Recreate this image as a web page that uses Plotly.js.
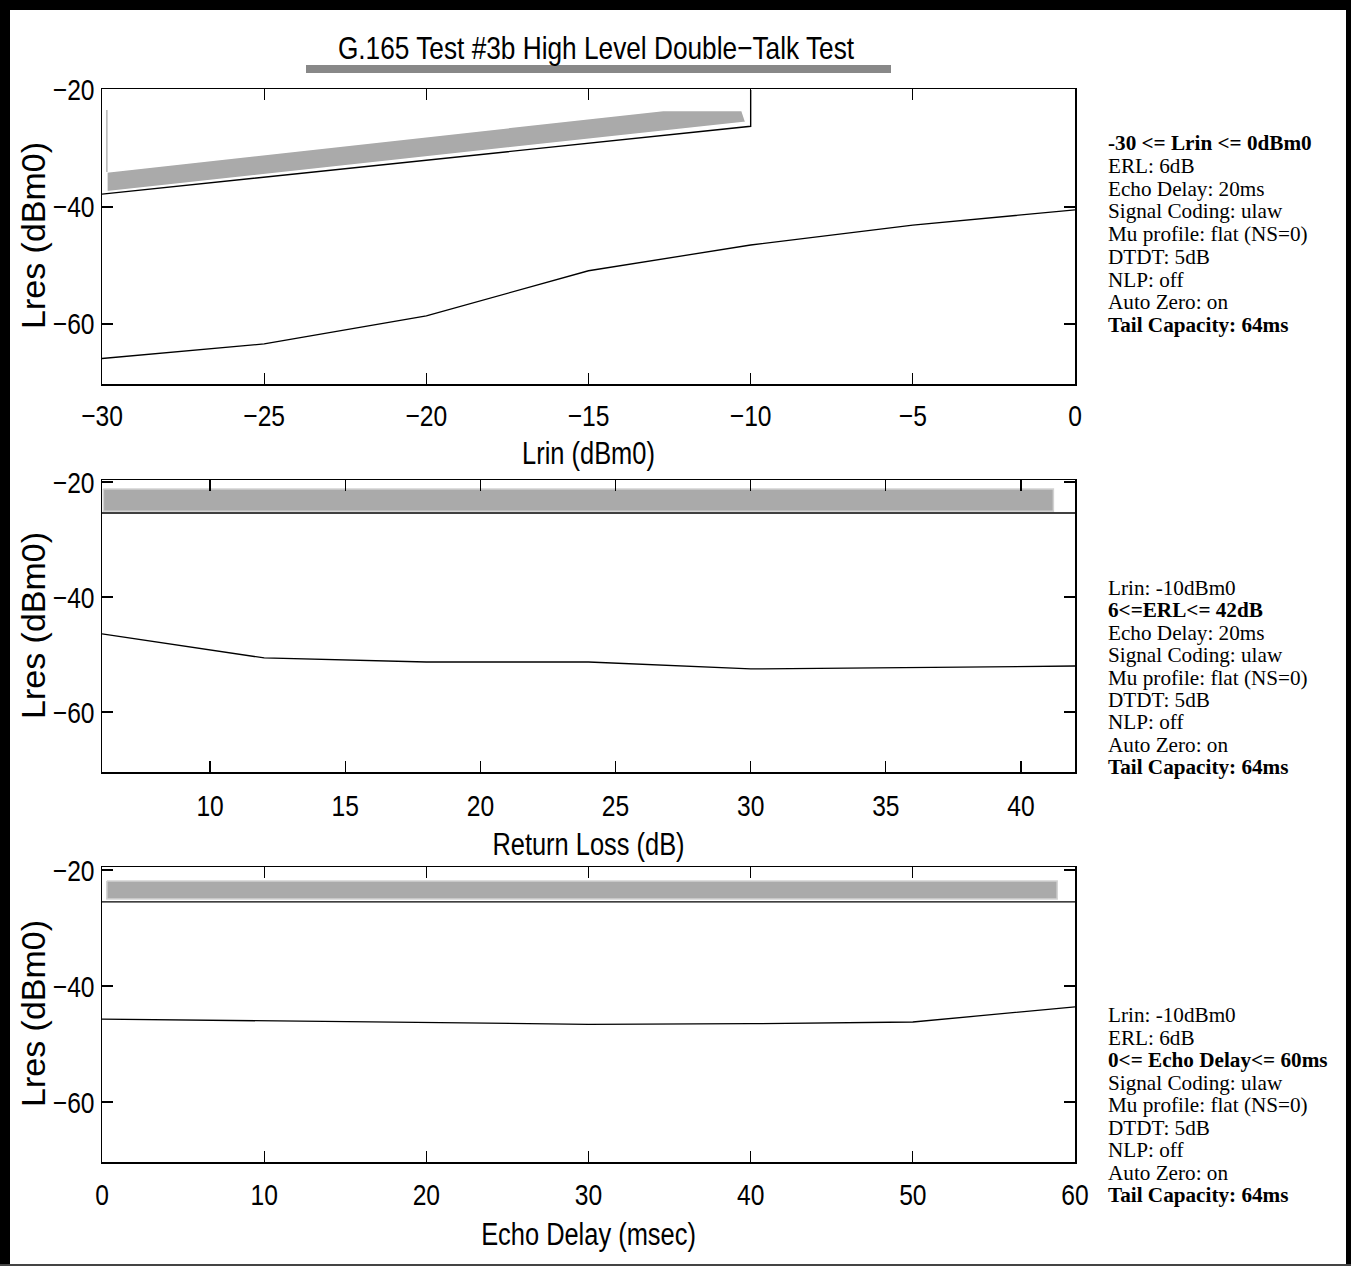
<!DOCTYPE html>
<html>
<head>
<meta charset="utf-8">
<script src="https://cdn.plot.ly/plotly-3.0.1.min.js"></script>
<style>html,body{margin:0;padding:0;background:#fff;}#chart{width:1351px;height:1266px;}</style>
</head>
<body>
<div id="chart"></div>
<script>
// ---------- Data ----------
// Plot 1: Lres vs Lrin
const lrin = [-30, -25, -20, -15, -10, -5, 0];
const lresLrin = [-65.9, -63.4, -58.6, -50.9, -46.5, -43.1, -40.5];
const limitLrinX = [-30, -10, -10];
const limitLrinY = [-37.8, -26.2, -20];
const bandLrinX = [-29.85, -12.7, -10.27, -10.15, -29.85, -29.85];
const bandLrinY = [-34.0, -23.5, -23.5, -25.5, -37.4, -34.0];
const markLrinX = [-29.85, -29.85];
const markLrinY = [-23.4, -34.0];

// Plot 2: Lres vs Return Loss (ERL)
const erl = [6, 12, 18, 24, 30, 36, 42];
const lresErl = [-46.4, -50.6, -51.3, -51.3, -52.5, -52.2, -52.0];
const limitErlX = [6, 42];
const limitErlY = [-25.4, -25.4];
const bandErlX = [6.05, 41.2, 41.2, 6.05, 6.05];
const bandErlY = [-21.2, -21.2, -25.1, -25.1, -21.2];

// Plot 3: Lres vs Echo Delay
const delay = [0, 10, 20, 30, 40, 50, 60];
const lresDelay = [-45.7, -46.0, -46.4, -46.6, -46.5, -46.2, -43.6];
const limitDelayX = [0, 60];
const limitDelayY = [-25.5, -25.5];
const bandDelayX = [0.3, 58.9, 58.9, 0.3, 0.3];
const bandDelayY = [-21.9, -21.9, -25.0, -25.0, -21.9];

// Tick values
const ticksLrin = [-30, -25, -20, -15, -10, -5, 0];
const ticksErl = [10, 15, 20, 25, 30, 35, 40];
const ticksDelay = [0, 10, 20, 30, 40, 50, 60];
const ticksLres = [-20, -40, -60];

// Text
const chartTitle = "G.165 Test #3b High Level Double\u2212Talk Test";
const xTitles = ["Lrin (dBm0)", "Return Loss (dB)", "Echo Delay (msec)"];
const yTitle = "Lres (dBm0)";
const info1 = ["<b>-30 <= Lrin <= 0dBm0</b>", "ERL: 6dB", "Echo Delay: 20ms", "Signal Coding: ulaw", "Mu profile: flat (NS=0)", "DTDT: 5dB", "NLP: off", "Auto Zero: on", "<b>Tail Capacity: 64ms</b>"];
const info2 = ["Lrin: -10dBm0", "<b>6<=ERL<= 42dB</b>", "Echo Delay: 20ms", "Signal Coding: ulaw", "Mu profile: flat (NS=0)", "DTDT: 5dB", "NLP: off", "Auto Zero: on", "<b>Tail Capacity: 64ms</b>"];
const info3 = ["Lrin: -10dBm0", "ERL: 6dB", "<b>0<= Echo Delay<= 60ms</b>", "Signal Coding: ulaw", "Mu profile: flat (NS=0)", "DTDT: 5dB", "NLP: off", "Auto Zero: on", "<b>Tail Capacity: 64ms</b>"];

// ---------- Layout helpers ----------
const W = 1351, H = 1266;
const px = v => v / W;
const py = v => 1 - v / H;
const SANS = "'Liberation Sans', Arial, sans-serif";
const SERIF = "'Liberation Serif', 'Times New Roman', serif";
const BAND = '#aaaaaa';

function bandTrace(x, y, xa, ya, lc) {
  return {x: x, y: y, xaxis: xa, yaxis: ya, type: 'scatter', mode: 'lines', fill: 'toself',
    fillcolor: BAND, line: {color: lc, width: 1.5}, hoverinfo: 'skip', showlegend: false};
}
function lineTrace(x, y, xa, ya, color, w) {
  return {x: x, y: y, xaxis: xa, yaxis: ya, type: 'scatter', mode: 'lines',
    line: {color: color, width: w}, showlegend: false};
}

const traces = [
  bandTrace(bandLrinX, bandLrinY, 'x', 'y', '#ffffff'),
  lineTrace(markLrinX, markLrinY, 'x', 'y', '#b5b5b5', 1.5),
  lineTrace(limitLrinX, limitLrinY, 'x', 'y', '#000000', 1.4),
  lineTrace(lrin, lresLrin, 'x', 'y', '#000000', 1.3),

  lineTrace(limitErlX, limitErlY, 'x2', 'y2', '#000000', 1.4),
  bandTrace(bandErlX, bandErlY, 'x2', 'y2', '#d2d2d2'),
  lineTrace(erl, lresErl, 'x2', 'y2', '#000000', 1.3),

  lineTrace(limitDelayX, limitDelayY, 'x3', 'y3', '#000000', 1.4),
  bandTrace(bandDelayX, bandDelayY, 'x3', 'y3', '#d2d2d2'),
  lineTrace(delay, lresDelay, 'x3', 'y3', '#000000', 1.3)
];

const xDom = [px(102), px(1075)];
function xAxis(range, ticks, title, anchor, lblOff, ttlOff) {
  return {domain: xDom, range: range, tickvals: ticks, anchor: anchor,
    showline: true, linecolor: '#000', linewidth: 1.5, mirror: 'ticks',
    ticks: 'inside', ticklen: 11, tickcolor: '#000', tickwidth: 1.3,
    showgrid: false, zeroline: false, fixedrange: true, automargin: false,
    ticklabelstandoff: lblOff,
    tickfont: {family: SANS, size: 30, color: '#000'},
    title: {text: title, standoff: ttlOff, font: {family: SANS, size: 31, color: '#000'}}};
}
function yAxis(top, bottom, range, anchor) {
  return {domain: [py(bottom), py(top)], range: range, tickvals: ticksLres, anchor: anchor,
    showline: true, linecolor: '#000', linewidth: 1.5, mirror: 'ticks',
    ticks: 'inside', ticklen: 11, tickcolor: '#000', tickwidth: 1.3,
    showgrid: false, zeroline: false, fixedrange: true, automargin: false,
    ticklabelstandoff: 0,
    tickfont: {family: SANS, size: 30, color: '#000'}};
}

const annotations = [];
function addInfo(lines, y0, step) {
  lines.forEach((t, i) => {
    annotations.push({text: t, xref: 'paper', yref: 'paper', x: px(1106), y: py(y0 + i * step),
      xanchor: 'left', yanchor: 'middle', showarrow: false,
      font: {family: SERIF, size: 21.2, color: '#000'}});
  });
}
addInfo(info1, 143, 22.75);
addInfo(info2, 588, 22.4);
addInfo(info3, 1015, 22.5);

// y-axis titles (rotated), one per subplot
[236, 626, 1014].forEach(yc => {
  annotations.push({text: yTitle, xref: 'paper', yref: 'paper', x: px(33), y: py(yc),
    xanchor: 'center', yanchor: 'middle', textangle: -90, showarrow: false,
    font: {family: SANS, size: 34, color: '#000'}});
});

const shapes = [
  {type: 'rect', xref: 'paper', yref: 'paper', x0: px(306), x1: px(891), y0: py(73), y1: py(65), fillcolor: '#888888', line: {width: 0}, layer: 'below'},
  {type: 'rect', xref: 'paper', yref: 'paper', x0: 0, x1: px(10), y0: 0, y1: 1, fillcolor: '#000', line: {width: 0}},
  {type: 'rect', xref: 'paper', yref: 'paper', x0: 0, x1: 1, y0: py(10), y1: 1, fillcolor: '#000', line: {width: 0}},
  {type: 'rect', xref: 'paper', yref: 'paper', x0: px(1346), x1: 1, y0: 0, y1: 1, fillcolor: '#000', line: {width: 0}},
  {type: 'rect', xref: 'paper', yref: 'paper', x0: 0, x1: 1, y0: 0, y1: py(1264), fillcolor: '#444', line: {width: 0}}
];

const layout = {
  width: W, height: H,
  margin: {l: 0, r: 0, t: 0, b: 0},
  paper_bgcolor: '#fff', plot_bgcolor: '#fff',
  showlegend: false,
  title: {text: chartTitle, x: px(596), xref: 'paper', xanchor: 'center', y: py(48), yref: 'paper', yanchor: 'middle',
    font: {family: SANS, size: 32, color: '#000'}},
  xaxis: xAxis([-30, 0], ticksLrin, xTitles[0], 'y', 4, 12),
  yaxis: yAxis(89, 384, [-70.26, -19.83], 'x'),
  xaxis2: xAxis([6, 42], ticksErl, xTitles[1], 'y2', 6, 13),
  yaxis2: yAxis(480, 772, [-70.43, -19.65], 'x2'),
  xaxis3: xAxis([0, 60], ticksDelay, xTitles[2], 'y3', 5, 14),
  yaxis3: yAxis(867, 1162, [-70.34, -19.48], 'x3'),
  annotations: annotations,
  shapes: shapes
};

// Condense sans-serif labels horizontally (narrow Helvetica look of the original)
function condense() {
  const sel = '.xtick text, .x2tick text, .x3tick text, .ytick text, .y2tick text, .y3tick text, text.gtitle, .g-xtitle text, .g-x2title text, .g-x3title text';
  document.querySelectorAll(sel).forEach(t => {
    const len = t.getComputedTextLength();
    if (len > 0) {
      t.setAttribute('textLength', (len * 0.82).toFixed(2));
      t.setAttribute('lengthAdjust', 'spacingAndGlyphs');
    }
  });
}

Plotly.newPlot('chart', traces, layout, {displayModeBar: false, staticPlot: true}).then(condense);
</script>
</body>
</html>
